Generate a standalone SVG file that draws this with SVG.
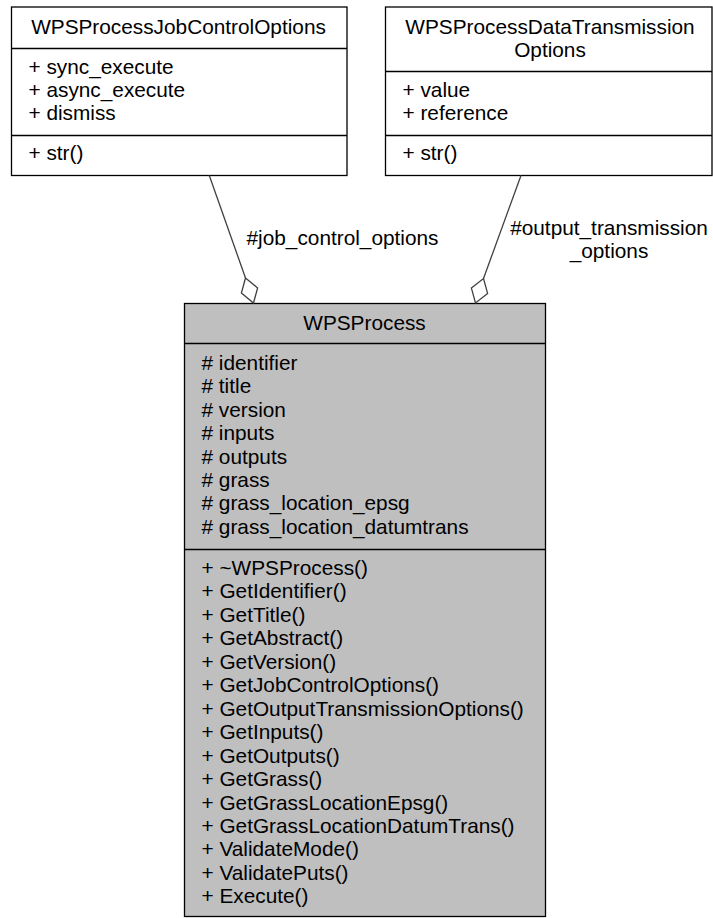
<svg xmlns="http://www.w3.org/2000/svg" width="713" height="918" viewBox="0 0 713 918">
<style>
text{font-family:"Liberation Sans",Arial,Helvetica,sans-serif;font-size:20.8px;fill:#000}
.c{text-anchor:middle}
.box{fill:#fff;stroke:#000;stroke-width:1.3}
.main{fill:#bfbfbf;stroke:#000;stroke-width:1.3}
.sep{stroke:#000;stroke-width:1.3;fill:none}
.edge{stroke:#404040;stroke-width:1.3;fill:none}
.dia{fill:#fff;stroke:#404040;stroke-width:1.3}
</style>
<rect width="713" height="918" fill="#fff"/>
<g id="node-job-control-options">
<rect class="box" x="11.5" y="7" width="335.5" height="168.5"/>
<line class="sep" x1="11.5" y1="48.5" x2="347" y2="48.5"/>
<line class="sep" x1="11.5" y1="135.5" x2="347" y2="135.5"/>
<text class="c" x="178.5" y="34">WPSProcessJobControlOptions</text>
<text x="28.5" y="73.5">+ sync_execute</text>
<text x="28.5" y="97">+ async_execute</text>
<text x="28.5" y="120.4">+ dismiss</text>
<text x="28.5" y="160">+ str()</text>
</g>
<g id="node-data-transmission-options">
<rect class="box" x="385.5" y="7" width="326.5" height="168.5"/>
<line class="sep" x1="385.5" y1="71.5" x2="712" y2="71.5"/>
<line class="sep" x1="385.5" y1="135.5" x2="712" y2="135.5"/>
<text class="c" x="550" y="33.5">WPSProcessDataTransmission</text>
<text class="c" x="550" y="57">Options</text>
<text x="402.5" y="96.7">+ value</text>
<text x="402.5" y="120">+ reference</text>
<text x="402.5" y="160">+ str()</text>
</g>
<g id="node-wpsprocess">
<rect class="main" x="184.5" y="303.5" width="361" height="613"/>
<line class="sep" x1="184.5" y1="343.5" x2="545.5" y2="343.5"/>
<line class="sep" x1="184.5" y1="549.5" x2="545.5" y2="549.5"/>
<text class="c" x="364.5" y="330">WPSProcess</text>
<text x="201.5" y="370"># identifier</text>
<text x="201.5" y="393.4"># title</text>
<text x="201.5" y="416.8"># version</text>
<text x="201.5" y="440.2"># inputs</text>
<text x="201.5" y="463.6"># outputs</text>
<text x="201.5" y="487"># grass</text>
<text x="201.5" y="510.4"># grass_location_epsg</text>
<text x="201.5" y="533.8"># grass_location_datumtrans</text>
<text x="201.5" y="575">+ ~WPSProcess()</text>
<text x="201.5" y="598.45">+ GetIdentifier()</text>
<text x="201.5" y="621.9">+ GetTitle()</text>
<text x="201.5" y="645.35">+ GetAbstract()</text>
<text x="201.5" y="668.8">+ GetVersion()</text>
<text x="201.5" y="692.25">+ GetJobControlOptions()</text>
<text x="201.5" y="715.7">+ GetOutputTransmissionOptions()</text>
<text x="201.5" y="739.15">+ GetInputs()</text>
<text x="201.5" y="762.6">+ GetOutputs()</text>
<text x="201.5" y="786.05">+ GetGrass()</text>
<text x="201.5" y="809.5">+ GetGrassLocationEpsg()</text>
<text x="201.5" y="832.95">+ GetGrassLocationDatumTrans()</text>
<text x="201.5" y="856.4">+ ValidateMode()</text>
<text x="201.5" y="879.85">+ ValidatePuts()</text>
<text x="201.5" y="903.3">+ Execute()</text>
</g>
<g id="connectors">
<g id="edge-job-control">
<line class="edge" x1="209.3" y1="175.5" x2="245.5" y2="278"/>
<polygon class="dia" points="245.5,278 257.6,287.9 253.5,303 241.4,293.1"/>
<text class="c" x="342.5" y="245">#job_control_options</text>
</g>
<g id="edge-output-transmission">
<line class="edge" x1="521" y1="175.5" x2="483.5" y2="278.5"/>
<polygon class="dia" points="483.5,278.5 487.6,293.4 475.5,303 471.4,288.1"/>
<text class="c" x="609" y="234.5">#output_transmission</text>
<text class="c" x="609" y="257.5">_options</text>
</g>
</g>
</svg>
